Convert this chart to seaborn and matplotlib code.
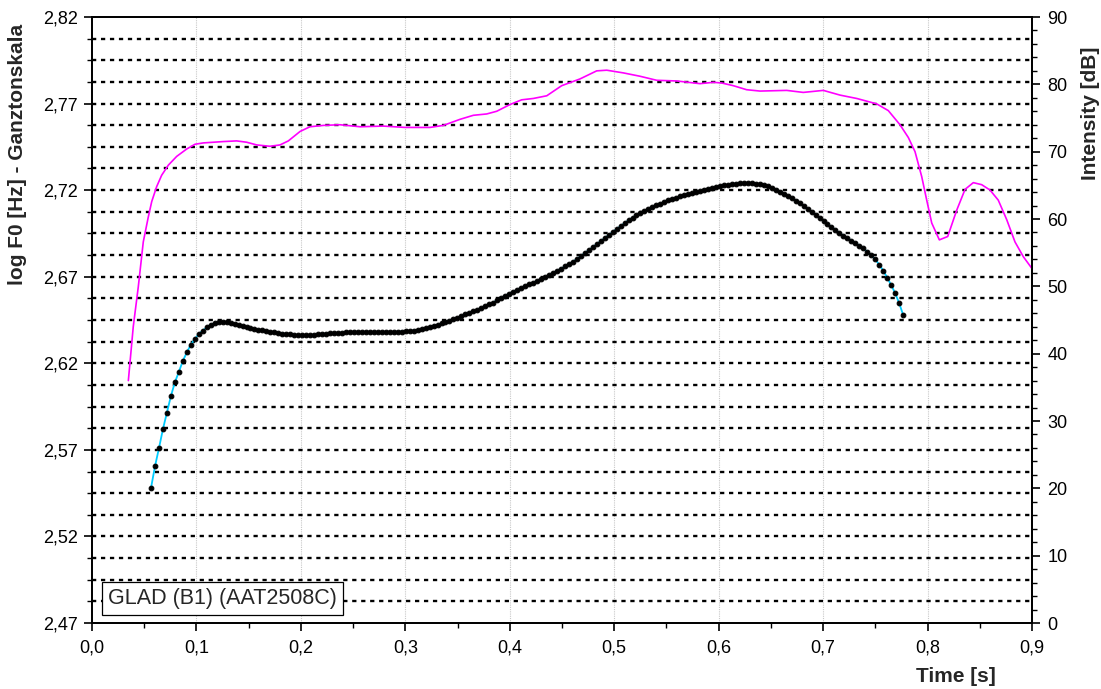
import numpy as np
import pandas as pd
import matplotlib
matplotlib.use("Agg")
import matplotlib.pyplot as plt
from matplotlib.ticker import FixedLocator, FuncFormatter, MultipleLocator
import seaborn as sns

# ---- F0 contour (log F0, whole-tone scale), sampled at a fixed frame step ----
f0_start = 0.0565
f0_step = 0.00381
f0_values = [
    2.5480, 2.5605, 2.5710, 2.5820, 2.5915, 2.6011, 2.6090, 2.6151, 2.6214, 2.6263,
    2.6307, 2.6340, 2.6369, 2.6389, 2.6407, 2.6422, 2.6432, 2.6437, 2.6438, 2.6437,
    2.6433, 2.6427, 2.6420, 2.6414, 2.6408, 2.6402, 2.6398, 2.6394, 2.6390, 2.6386,
    2.6382, 2.6378, 2.6375, 2.6372, 2.6369, 2.6367, 2.6365, 2.6364, 2.6363, 2.6363,
    2.6364, 2.6365, 2.6367, 2.6369, 2.6371, 2.6373, 2.6375, 2.6376, 2.6377, 2.6378,
    2.6378, 2.6379, 2.6379, 2.6379, 2.6380, 2.6380, 2.6380, 2.6380, 2.6380, 2.6380,
    2.6381, 2.6381, 2.6382, 2.6383, 2.6384, 2.6386, 2.6389, 2.6391, 2.6396, 2.6402,
    2.6410, 2.6416, 2.6423, 2.6430, 2.6438, 2.6447, 2.6455, 2.6464, 2.6473, 2.6482,
    2.6491, 2.6501, 2.6510, 2.6520, 2.6530, 2.6540, 2.6551, 2.6564, 2.6577, 2.6589,
    2.6601, 2.6613, 2.6624, 2.6636, 2.6646, 2.6656, 2.6665, 2.6675, 2.6686, 2.6696,
    2.6708, 2.6721, 2.6733, 2.6746, 2.6759, 2.6772, 2.6786, 2.6802, 2.6819, 2.6836,
    2.6853, 2.6870, 2.6888, 2.6905, 2.6923, 2.6940, 2.6957, 2.6975, 2.6992, 2.7009,
    2.7026, 2.7041, 2.7055, 2.7067, 2.7079, 2.7090, 2.7102, 2.7112, 2.7122, 2.7133,
    2.7142, 2.7150, 2.7157, 2.7164, 2.7170, 2.7176, 2.7182, 2.7188, 2.7195, 2.7201,
    2.7207, 2.7213, 2.7219, 2.7224, 2.7228, 2.7232, 2.7235, 2.7238, 2.7240, 2.7241,
    2.7241, 2.7240, 2.7238, 2.7235, 2.7229, 2.7222, 2.7213, 2.7203, 2.7192, 2.7180,
    2.7168, 2.7154, 2.7140, 2.7125, 2.7109, 2.7092, 2.7075, 2.7058, 2.7040, 2.7023,
    2.7005, 2.6988, 2.6970, 2.6953, 2.6937, 2.6923, 2.6909, 2.6895, 2.6880, 2.6863,
    2.6845, 2.6825, 2.6800, 2.6770, 2.6735, 2.6695, 2.6652, 2.6605, 2.6548, 2.6480,
]
f0_time = f0_start + f0_step * np.arange(len(f0_values))

# ---- Intensity contour (dB) ----
int_time = [
    0.0348, 0.0395, 0.0443, 0.0491, 0.0539, 0.0572, 0.0619, 0.0667, 0.0731, 0.0811,
    0.0907, 0.0986, 0.1066, 0.1257, 0.1385, 0.1481, 0.1577, 0.1704, 0.1800, 0.1880,
    0.1992, 0.2087, 0.2215, 0.2374, 0.2566, 0.2789, 0.2997, 0.3236, 0.3364, 0.3523,
    0.3651, 0.3779, 0.3875, 0.4002, 0.4114, 0.4225, 0.4354, 0.4497, 0.4672, 0.4832,
    0.4928, 0.5087, 0.5247, 0.5407, 0.5598, 0.5821, 0.5949, 0.6029, 0.6140, 0.6268,
    0.6396, 0.6651, 0.6810, 0.7002, 0.7162, 0.7322, 0.7513, 0.7624, 0.7736, 0.7816,
    0.7880, 0.7944, 0.7992, 0.8040, 0.8113, 0.8193, 0.8279, 0.8359, 0.8438, 0.8518,
    0.8598, 0.8677, 0.8758, 0.8837, 0.8917, 0.8997,
]
int_db = [
    36.0, 44.0, 49.9, 56.6, 60.3, 62.6, 64.8, 66.5, 68.0, 69.3,
    70.4, 71.1, 71.3, 71.5, 71.6, 71.4, 71.0, 70.8, 71.0, 71.6,
    73.0, 73.7, 73.9, 74.0, 73.7, 73.8, 73.6, 73.6, 73.9, 74.8,
    75.4, 75.6, 76.0, 77.0, 77.7, 77.9, 78.3, 79.8, 80.8, 82.0,
    82.1, 81.7, 81.2, 80.6, 80.5, 80.1, 80.3, 80.2, 79.8, 79.2,
    79.0, 79.1, 78.8, 79.1, 78.4, 77.9, 77.1, 76.1, 74.0, 72.1,
    70.0, 66.3, 62.8, 59.4, 56.9, 57.4, 61.3, 64.4, 65.4, 65.1,
    64.3, 62.8, 59.9, 56.6, 54.4, 52.7,
]

# ---- axis settings ----
x_ticks = [0.0, 0.1, 0.2, 0.3, 0.4, 0.5, 0.6, 0.7, 0.8, 0.9]
f0_ticks = [2.47, 2.52, 2.57, 2.62, 2.67, 2.72, 2.77, 2.82]
db_ticks = [0, 10, 20, 30, 40, 50, 60, 70, 80, 90]
label_text = "GLAD (B1) (AAT2508C)"

f0_df = pd.DataFrame({"time": f0_time, "f0": f0_values})
int_df = pd.DataFrame({"time": int_time, "db": int_db})

sns.set_theme(style="white")
plt.rcParams["font.family"] = ["Liberation Sans", "DejaVu Sans"]
plt.rcParams["axes.edgecolor"] = "black"
plt.rcParams["axes.linewidth"] = 1.3

TICK_FS = 13
LABEL_FS = 15

fig = plt.figure(figsize=(11.01, 6.89), dpi=100)
ax = fig.add_axes([92 / 1101, 1 - 623 / 689, 940 / 1101, 606 / 689])

# dotted horizontal grid every quarter step of the F0 axis
grid_levels = [f0_ticks[0] + k * 0.0125 for k in range(1, 28)]
for lvl in grid_levels:
    ax.axhline(lvl, color="black", lw=1.7, ls=(0, (1.8, 2.0)), zorder=0.5)
for xv in x_ticks[1:-1]:
    ax.axvline(xv, color="#c8c8c8", lw=0.8, ls=(0, (1, 1)), zorder=0.4)

sns.lineplot(data=f0_df, x="time", y="f0", ax=ax, sort=False, estimator=None,
             color="#00ccff", lw=1.3, marker="o", markersize=3.4,
             markerfacecolor="black", markeredgecolor="black", zorder=3)

ax.set_xlim(0, 0.9)
ax.set_ylim(2.47, 2.82)
ax.set_xticks(x_ticks)
ax.xaxis.set_minor_locator(MultipleLocator(0.05))
ax.set_yticks(f0_ticks)
ax.yaxis.set_minor_locator(FixedLocator(grid_levels))
ax.xaxis.set_major_formatter(FuncFormatter(lambda v, p: f"{v:.1f}".replace(".", ",")))
ax.yaxis.set_major_formatter(FuncFormatter(lambda v, p: f"{v:.2f}".replace(".", ",")))
ax.tick_params(axis="both", which="major", direction="out", length=6, width=1.2,
               labelsize=TICK_FS, color="black", labelcolor="black")
ax.tick_params(axis="x", which="major", pad=6)
ax.tick_params(axis="y", which="major", pad=4)
ax.tick_params(axis="both", which="minor", direction="out", length=3.5, width=1.0,
               color="black")
ax.tick_params(axis="x", which="both", bottom=True)
ax.tick_params(axis="y", which="both", left=True)
ax.set_xlabel("")
ax.set_ylabel("")
for s in ax.spines.values():
    s.set_color("black")
    s.set_linewidth(1.3)

ax2 = ax.twinx()
sns.lineplot(data=int_df, x="time", y="db", ax=ax2, sort=False, estimator=None,
             color="#ff00ff", lw=1.2)
ax2.set_ylim(0, 90)
ax2.set_yticks(db_ticks)
ax2.yaxis.set_minor_locator(MultipleLocator(2))
ax2.tick_params(axis="y", which="major", direction="out", length=6, width=1.2,
                labelsize=TICK_FS, pad=5, right=True, color="black", labelcolor="black")
ax2.tick_params(axis="y", which="minor", direction="out", length=3.5, width=1.0,
                right=True, color="black")
ax2.set_ylabel("")
ax2.set_xlabel("")
for s in ax2.spines.values():
    s.set_color("black")
    s.set_linewidth(1.3)

fig.text(18 / 1101, 1 - 154 / 689, "log F0 [Hz] - Ganztonskala", rotation=90,
         ha="center", va="center", fontsize=LABEL_FS, fontweight="bold")
fig.text(1090 / 1101, 1 - 113 / 689, "Intensity [dB]", rotation=90,
         ha="center", va="center", fontsize=LABEL_FS, fontweight="bold")
fig.text(956 / 1101, 1 - 677 / 689, "Time [s]", ha="center", va="center",
         fontsize=LABEL_FS, fontweight="bold",
         bbox=dict(boxstyle="square,pad=0.12", fc="white", ec="none"))

ax.text(0.0170, 0.0230, label_text, transform=ax.transAxes, ha="left", va="bottom",
        fontsize=15.5, zorder=5,
        bbox=dict(boxstyle="square,pad=0.28", fc="white", ec="black", lw=0.9))

fig.savefig("out.png", dpi=100)
